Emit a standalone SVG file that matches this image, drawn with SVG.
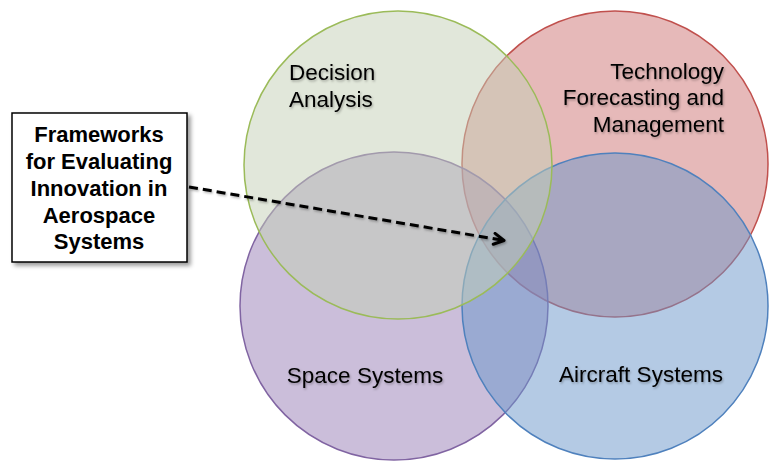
<svg xmlns="http://www.w3.org/2000/svg" width="770" height="464" viewBox="0 0 770 464">
  <defs>
    <filter id="tshadow" x="-10%" y="-20%" width="130%" height="160%">
      <feDropShadow dx="1" dy="1.5" stdDeviation="1" flood-color="#000" flood-opacity="0.3"/>
    </filter>
    <filter id="bshadow" x="-10%" y="-10%" width="130%" height="130%">
      <feDropShadow dx="3" dy="3" stdDeviation="2" flood-color="#000" flood-opacity="0.4"/>
    </filter>
    <marker id="chev" viewBox="0 0 14 14" refX="12" refY="7" markerWidth="14" markerHeight="14" markerUnits="userSpaceOnUse" orient="auto">
      <path d="M2,1.5 L12,7 L2,12.5" fill="none" stroke="#000" stroke-width="3" stroke-linecap="round" stroke-linejoin="round"/>
    </marker>
    <style>
      .circle { stroke-width: 1.5; fill-opacity: 0.5; }
      .lbl { font-family: "Liberation Sans", Arial, sans-serif; font-size: 22.5px; fill: #000; filter: url(#tshadow); }
      .box { fill: #fff; stroke: #000; stroke-width: 1.5; filter: url(#bshadow); }
      .boxtxt { font-family: "Liberation Sans", Arial, sans-serif; font-size: 22px; font-weight: bold; fill: #000; text-anchor: middle; }
      .conn { fill: none; stroke: #000; stroke-width: 3; stroke-dasharray: 9 5; filter: url(#tshadow); }
    </style>
  </defs>

  <g id="technology-forecasting">
    <circle class="circle" cx="615" cy="164" r="153" fill="#cd7373" stroke="#c0504d"/>
  </g>
  <g id="space-systems">
    <circle class="circle" cx="394" cy="306" r="154" fill="#977db5" stroke="#8064a2"/>
  </g>
  <g id="aircraft-systems">
    <circle class="circle" cx="615" cy="306" r="153" fill="#6995c9" stroke="#4f81bd"/>
  </g>
  <g id="decision-analysis">
    <circle class="circle" cx="398" cy="165" r="154" fill="#c3cfb5" stroke="#9bbb59"/>
  </g>

  <g id="labels">
    <text class="lbl" x="289" y="80">Decision</text>
    <text class="lbl" x="289" y="107">Analysis</text>
    <text class="lbl" x="724" y="79" text-anchor="end">Technology</text>
    <text class="lbl" x="724" y="105" text-anchor="end">Forecasting and</text>
    <text class="lbl" x="724" y="132" text-anchor="end">Management</text>
    <text class="lbl" x="365" y="383" text-anchor="middle">Space Systems</text>
    <text class="lbl" x="641" y="382" text-anchor="middle">Aircraft Systems</text>
  </g>

  <g id="frameworks-box">
    <rect class="box" x="12" y="113" width="175" height="149"/>
    <text class="boxtxt" x="99" y="142">Frameworks</text>
    <text class="boxtxt" x="99" y="169">for Evaluating</text>
    <text class="boxtxt" x="99" y="196">Innovation in</text>
    <text class="boxtxt" x="99" y="223">Aerospace</text>
    <text class="boxtxt" x="99" y="249">Systems</text>
  </g>

  <g id="connectors">
    <line class="conn" x1="189" y1="187" x2="504" y2="240.5" marker-end="url(#chev)"/>
  </g>
</svg>
